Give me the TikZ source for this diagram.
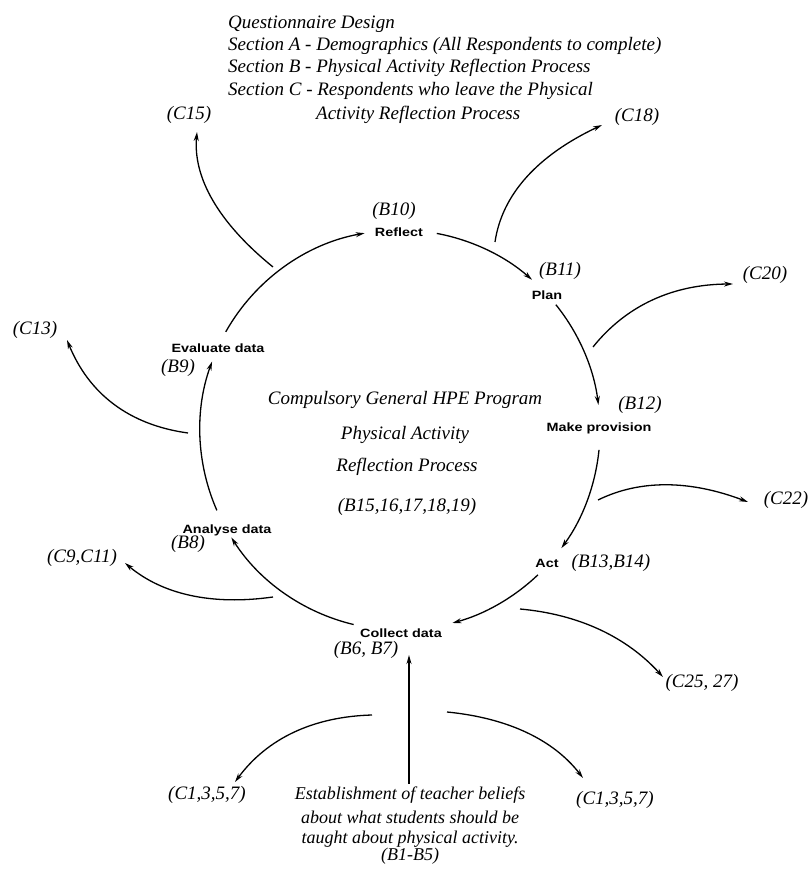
\documentclass[tikz,border=0pt]{standalone}
\usepackage{fontspec}
\setmainfont{Liberation Serif}
\newfontfamily\lblfont[FakeStretch=1.2]{Liberation Sans}
\usetikzlibrary{arrows.meta,calc}
\begin{document}
\begin{tikzpicture}[x=1pt,y=1pt,
  ital/.style={font=\itshape\fontsize{19}{22}\selectfont, inner sep=0pt},
  itals/.style={font=\itshape\fontsize{18}{20}\selectfont, inner sep=0pt},
  lbl/.style={font=\lblfont\bfseries\fontsize{12}{14}\selectfont, inner sep=0pt},
  conn/.style={line width=1.3pt, -{Stealth[length=9pt,width=5pt]}},
]
\useasboundingbox (0,0) rectangle (811,871);
\coordinate (ctr) at (400,441);

% header
\node[ital,anchor=west] (h1) at (228,847) {Questionnaire Design};
\node[ital,anchor=west] (h2) at (228,825) {Section A - Demographics (All Respondents to complete)};
\node[ital,anchor=west] (h3) at (228,803) {Section B - Physical Activity Reflection Process};
\node[ital,anchor=west] (h4) at (228,780) {Section C - Respondents who leave the Physical};
\node[ital,anchor=west] (h5) at (316,756) {Activity Reflection Process};

% C labels
\node[ital] (c15) at (189,756) {(C15)};
\node[ital] (c18) at (637,754) {(C18)};
\node[ital] (c20) at (765,596) {(C20)};
\node[ital] (c13) at (35,541) {(C13)};
\node[ital] (c22) at (786,371) {(C22)};
\node[ital] (c9) at (82,313) {(C9,C11)};
\node[ital] (c25) at (702,188) {(C25, 27)};
\node[ital] (c1l) at (207,76) {(C1,3,5,7)};
\node[ital] (c1r) at (615,71) {(C1,3,5,7)};

% cycle stages
\node[ital] (b10) at (394,660) {(B10)};
\node[lbl] (reflect) at (399,639) {Reflect};
\node[ital] (b11) at (560,600) {(B11)};
\node[lbl] (plan) at (547,576) {Plan};
\node[ital] (b12) at (640,466) {(B12)};
\node[lbl] (make) at (599,443) {Make provision};
\node[lbl] (act) at (547,308) {Act};
\node[ital] (b13) at (611,308) {(B13,B14)};
\node[lbl] (collect) at (401,238) {Collect data};
\node[ital] (b6) at (366,221) {(B6, B7)};
\node[lbl] (analyse) at (227,341) {Analyse data};
\node[ital] (b8) at (188,327) {(B8)};
\node[lbl] (evaluate) at (218,523) {Evaluate data};
\node[ital] (b9) at (178,503) {(B9)};

% centre text
\node[ital] (m1) at (405,471) {Compulsory General HPE Program};
\node[ital] (m2) at (405,436) {Physical Activity};
\node[ital] (m3) at (407,404) {Reflection Process};
\node[ital] (m4) at (407,364) {(B15,16,17,18,19)};

% bottom text
\node[itals] (e1) at (410,76) {Establishment of teacher beliefs};
\node[itals] (e2) at (410,54) {about what students should be};
\node[itals] (e3) at (410,32) {taught about physical activity.};
\node[itals,anchor=north] (e4) at (e3.south) {(B1-B5)};

% cycle arcs
\coordinate (a1) at ($(ctr)+(150.6:200)$);
\draw[conn] (a1) arc[start angle=150.6,end angle=100.2,radius=200];
\coordinate (a2) at ($(ctr)+(79.4:200)$);
\draw[conn] (a2) arc[start angle=79.4,end angle=48.7,radius=200];
\coordinate (a3) at ($(ctr)+(38.8:200)$);
\draw[conn] (a3) arc[start angle=38.8,end angle=7.2,radius=200];
\coordinate (a4) at ($(ctr)+(-5.7:200)$);
\draw[conn] (a4) arc[start angle=-5.7,end angle=-36.2,radius=200];
\coordinate (a5) at ($(ctr)+(-46.4:200)$);
\draw[conn] (a5) arc[start angle=-46.4,end angle=-74.8,radius=200];
\coordinate (a6) at ($(ctr)+(256.6:200)$);
\draw[conn] (a6) arc[start angle=256.6,end angle=212.5,radius=200];
\coordinate (a7) at ($(ctr)+(203.7:200)$);
\draw[conn] (a7) arc[start angle=203.7,end angle=160,radius=200];

% exits
\coordinate (s15) at (273,604); \coordinate (q15) at (191,670.5); \coordinate (t15) at (197,739);
\draw[conn] (s15) .. controls ($(s15)!2/3!(q15)$) and ($(t15)!2/3!(q15)$) .. (t15);
\coordinate (s18) at (495,629); \coordinate (q18) at (505.5,700.5); \coordinate (t18) at (602,746);
\draw[conn] (s18) .. controls ($(s18)!2/3!(q18)$) and ($(t18)!2/3!(q18)$) .. (t18);
\coordinate (s20) at (593,524); \coordinate (q20) at (643,586.5); \coordinate (t20) at (733,587);
\draw[conn] (s20) .. controls ($(s20)!2/3!(q20)$) and ($(t20)!2/3!(q20)$) .. (t20);
\coordinate (s13) at (188,438); \coordinate (q13) at (100,450); \coordinate (t13) at (67,531);
\draw[conn] (s13) .. controls ($(s13)!2/3!(q13)$) and ($(t13)!2/3!(q13)$) .. (t13);
\coordinate (s22) at (598,371); \coordinate (q22) at (661,402); \coordinate (t22) at (748,369);
\draw[conn] (s22) .. controls ($(s22)!2/3!(q22)$) and ($(t22)!2/3!(q22)$) .. (t22);
\coordinate (s9) at (273,274); \coordinate (q9) at (181,261); \coordinate (t9) at (125,308);
\draw[conn] (s9) .. controls ($(s9)!2/3!(q9)$) and ($(t9)!2/3!(q9)$) .. (t9);
\coordinate (s25) at (520,262); \coordinate (q25) at (608.5,254); \coordinate (t25) at (663,194);
\draw[conn] (s25) .. controls ($(s25)!2/3!(q25)$) and ($(t25)!2/3!(q25)$) .. (t25);
\coordinate (sl) at (372,156); \coordinate (ql) at (282.5,153.5); \coordinate (tl) at (235,89);
\draw[conn] (sl) .. controls ($(sl)!2/3!(ql)$) and ($(tl)!2/3!(ql)$) .. (tl);
\coordinate (sr) at (447,159); \coordinate (qr) at (539,150); \coordinate (tr) at (583,93);
\draw[conn] (sr) .. controls ($(sr)!2/3!(qr)$) and ($(tr)!2/3!(qr)$) .. (tr);

% foundation arrow
\coordinate (vb) at (409,87); \coordinate (vt) at (409,216);
\draw[conn] (vb) -- (vt);
\end{tikzpicture}
\end{document}
